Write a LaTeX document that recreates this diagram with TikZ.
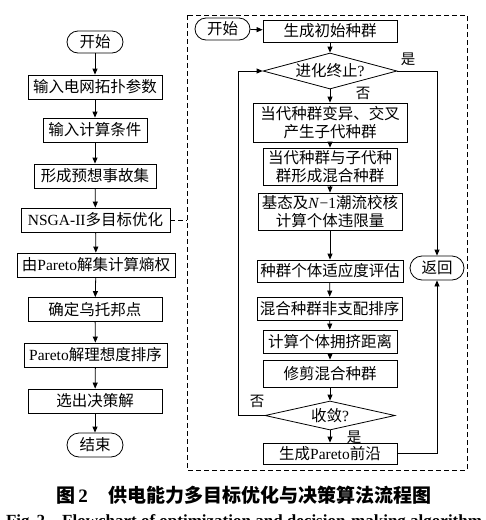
\documentclass[tikz,border=0pt]{standalone}
\usepackage{fontspec}
\setmainfont{Liberation Serif}
\newfontfamily\cjk{Noto Sans CJK SC}
\usetikzlibrary{shapes.geometric,arrows.meta}
\newcommand{\lat}[1]{{\rmfamily #1}}
\begin{document}
\begin{tikzpicture}[x=1pt,y=-1pt,
  every node/.style={font=\cjk\fontsize{15.5}{18}\selectfont, inner sep=0pt},
  box/.style={draw, line width=0.8pt, rectangle, minimum height=24pt, align=center},
  term/.style={draw, line width=0.8pt, rectangle, rounded corners=11pt, minimum height=22pt},
  dec/.style={draw, line width=0.8pt, diamond, aspect=4},
  conn/.style={line width=0.8pt, -{Triangle[length=6pt,width=5pt]}},
  lbl/.style={font=\cjk\fontsize{14.5}{16}\selectfont}
]
\useasboundingbox (0,0) rectangle (486,520);
\clip (0,0) rectangle (486,520);

% left column
\node[term, minimum width=56pt] (st) at (95,42) {开始};
\node[box, minimum width=134pt] (in1) at (95,87) {输入电网拓扑参数};
\node[box, minimum width=104pt] (in2) at (95,130) {输入计算条件};
\node[box, minimum width=122pt] (in3) at (95,176) {形成预想事故集};
\node[box, minimum width=149pt] (nsga) at (95.5,220) {\lat{NSGA-II}多目标优化};
\node[box, minimum width=158pt] (ent) at (96,265) {由\lat{Pareto}解集计算熵权};
\node[box, minimum width=134pt] (uto) at (95,309.5) {确定乌托邦点};
\node[box, minimum width=143pt] (par) at (95.5,355) {\lat{Pareto}解理想度排序};
\node[box, minimum width=134pt] (sel) at (95,401) {选出决策解};
\node[term, minimum width=56pt, minimum height=24pt, rounded corners=12pt] (en) at (95,445) {结束};

\draw[conn] (st) -- (in1);
\draw[conn] (in1) -- (in2);
\draw[conn] (in2) -- (in3);
\draw[conn] (in3) -- (nsga);
\draw[conn] (nsga) -- (ent);
\draw[conn] (ent) -- (uto);
\draw[conn] (uto) -- (par);
\draw[conn] (par) -- (sel);
\draw[conn] (sel) -- (en);

% dashed frame
\coordinate (fl) at (187,0);
\draw[line width=0.8pt, dash pattern=on 5pt off 3pt] (187,15) rectangle (467,470);
\draw[line width=0.8pt, dash pattern=on 5pt off 3pt] (nsga.east) -- (nsga.east -| fl);

% right column
\node[term, minimum width=55pt] (s2) at (222.5,29) {开始};
\node[box, minimum width=134pt, minimum height=22pt] (init) at (330,31) {生成初始种群};
\node[dec, minimum width=134pt, minimum height=36pt] (d1) at (330,71) {进化终止\lat{?}};
\node[box, minimum width=154pt, minimum height=39pt] (b1) at (330,122.5) {当代种群变异、交叉\\产生子代种群};
\node[box, minimum width=134pt, minimum height=37pt] (b2) at (330,166.5) {当代种群与子代种\\群形成混合种群};
\node[box, minimum width=144pt, minimum height=37pt] (b3) at (330,211.5) {基态及\lat{\textit{N}−1}潮流校核\\计算个体违限量};
\node[box, minimum width=146pt, minimum height=22pt] (b4) at (330,271) {种群个体适应度评估};
\node[box, minimum width=145pt, minimum height=23pt] (b5) at (329.5,308.5) {混合种群非支配排序};
\node[box, minimum width=134pt, minimum height=23pt] (b6) at (330,341.5) {计算个体拥挤距离};
\node[box, minimum width=134pt, minimum height=27pt] (b7) at (330,373.5) {修剪混合种群};
\node[dec, minimum width=130pt, minimum height=29pt, aspect=4.5] (d2) at (330,415.5) {收敛\lat{?}};
\node[box, minimum width=134pt, minimum height=21pt] (b8) at (330,453.5) {生成\lat{Pareto}前沿};
\node[term, minimum width=54pt, minimum height=24pt, rounded corners=12pt] (ret) at (437,268) {返回};

\draw[conn] (s2) -- (init);
\draw[conn] (init) -- (d1);
\draw[conn] (d1) -- (b1);
\draw[conn] (b1) -- (b2);
\draw[conn] (b2) -- (b3);
\draw[conn] (b3) -- (b4);
\draw[conn] (b4) -- (b5);
\draw[conn] (b5) -- (b6);
\draw[conn] (b6) -- (b7);
\draw[conn] (b7) -- (d2);
\draw[conn] (d2) -- (b8);
\draw[conn] (d1.east) -| (ret.north);
\draw[conn] (b8.east) -| (ret.south);
\coordinate (lx) at (238,0);
\draw[conn] (d2.west) -- (d2.west -| lx) |- (d1.west);

\node[lbl] (y1) at (408,59) {是};
\node[lbl] (n1) at (363,93) {否};
\node[lbl] (n2) at (257,401) {否};
\node[lbl] (y2) at (354,437) {是};

% caption
\node[font=\cjk\bfseries\fontsize{19}{22}\selectfont] (cap) at (244,495) {图\,\lat{\textbf{2}}\hspace{1.1em}供电能力多目标优化与决策算法流程图};
\node[font=\rmfamily\bfseries\fontsize{17}{20}\selectfont] (cap2) at (244,522) {Fig.\,2\hspace{1em}Flowchart of optimization and decision-making algorithm};
\end{tikzpicture}
\end{document}
